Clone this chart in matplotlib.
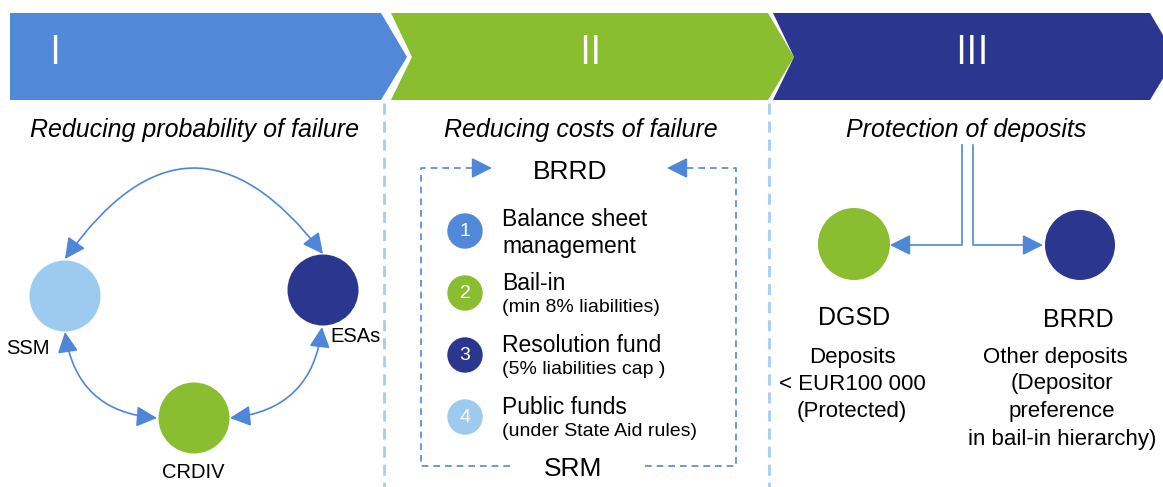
import matplotlib

matplotlib.use("Agg")
import matplotlib.pyplot as plt
from matplotlib.patches import Circle, FancyArrowPatch, Polygon

plt.rcParams["font.family"] = ["Liberation Sans", "DejaVu Sans"]

# ---------------- content ----------------
BLUE = "#5288d8"
GREEN = "#8bbd30"
NAVY = "#2b378e"
LIGHT = "#9dcbf0"
ARROW = "#4f87d8"
SEP = "#a5cdef"

numerals = ["I", "II", "III"]
banner_colors = [BLUE, GREEN, NAVY]
headers = ["Reducing probability of failure", "Reducing costs of failure",
           "Protection of deposits"]

left_nodes = ["SSM", "ESAs", "CRDIV"]
left_colors = [LIGHT, NAVY, GREEN]

tools_num = ["1", "2", "3", "4"]
tools_main = [["Balance sheet", "management"], ["Bail-in"], ["Resolution fund"],
              ["Public funds"]]
tools_sub = ["", "(min 8% liabilities)", "(5% liabilities cap )", "(under State Aid rules)"]
tools_colors = [BLUE, GREEN, NAVY, LIGHT]

dep_titles = ["DGSD", "BRRD"]
dep_colors = [GREEN, NAVY]
dgsd_lines = ["Deposits", "< EUR100 000", "(Protected)"]
brrd_lines = ["Other deposits", "(Depositor", "preference", "in bail-in hierarchy)"]

# ---------------- canvas (pixel coordinates) ----------------
fig = plt.figure(figsize=(11.63, 4.87), dpi=100)
ax = fig.add_axes([0, 0, 1, 1])
ax.set_xlim(0, 1163)
ax.set_ylim(487, 0)
ax.axis("off")

# chevron banners
top, mid, bot = 13, 57, 100
tip = 26
starts = [10, 391, 773]
ends = [381, 768, 1150]
for i, (x0, x1) in enumerate(zip(starts, ends)):
    pts = [(x0, top), (x1, top), (x1 + tip, mid), (x1, bot), (x0, bot)]
    if i > 0:
        pts.append((x0 + 21, mid))
    ax.add_patch(Polygon(pts, closed=True, facecolor=banner_colors[i], edgecolor="none"))

for x, s in zip([55, 590, 972], numerals):
    ax.text(x, 54, s, color="white", fontsize=29, ha="center", va="center",
            family=["Open Sans", "DejaVu Sans"])

for x, s in zip([195, 581, 966], headers):
    ax.text(x, 130, s, fontsize=18, style="italic", ha="center", va="center")

# dashed separators
for x in [384, 769]:
    ax.plot([x, x], [103, 487], color=SEP, lw=2, dashes=(4, 2.5))

# ---------------- panel I ----------------
centers = [(65, 296), (323, 290), (194, 418)]
for (cx, cy), c in zip(centers, left_colors):
    ax.add_patch(Circle((cx, cy), 35.5, facecolor=c, edgecolor="none"))

ax.text(28, 348, left_nodes[0], fontsize=14.5, ha="center", va="center")
ax.text(356, 336, left_nodes[1], fontsize=14.5, ha="center", va="center")
ax.text(193, 472, left_nodes[2], fontsize=14.5, ha="center", va="center")

arrow_kw = dict(arrowstyle="<|-|>,head_length=0.9,head_width=0.45",
                color=ARROW, lw=1.2, mutation_scale=14, shrinkA=0, shrinkB=0)
ax.add_patch(FancyArrowPatch((65, 259), (323, 254),
                             connectionstyle="arc3,rad=-0.68", **arrow_kw))
ax.add_patch(FancyArrowPatch((65, 332), (157, 418),
                             connectionstyle="arc3,rad=0.4", **arrow_kw))
ax.add_patch(FancyArrowPatch((230, 418), (322, 327),
                             connectionstyle="arc3,rad=0.4", **arrow_kw))

# ---------------- panel II ----------------
ax.text(570, 172, "BRRD", fontsize=19, ha="center", va="center")
ax.text(573, 469, "SRM", fontsize=19, ha="center", va="center")

box_kw = dict(color=ARROW, lw=1.2, dashes=(4, 3))
bl, br, bt, bb = 421, 736, 168, 466
ax.plot([484, bl, bl, 515], [bt, bt, bb, bb], **box_kw)
ax.plot([675, br, br, 645], [bt, bt, bb, bb], **box_kw)
head_kw = dict(arrowstyle="-|>,head_length=0.9,head_width=0.45", color=ARROW,
               lw=1.2, mutation_scale=14, shrinkA=0, shrinkB=0)
ax.add_patch(FancyArrowPatch((480, bt), (492, bt), **head_kw))
ax.add_patch(FancyArrowPatch((679, bt), (667, bt), **head_kw))

ys = [231, 293, 355, 417]
for y, n, main, sub, c in zip(ys, tools_num, tools_main, tools_sub, tools_colors):
    ax.add_patch(Circle((465, y), 17.7, facecolor=c, edgecolor="none"))
    ax.text(465, y + 1, n, color="white", fontsize=14, ha="center", va="center")
    if sub:
        ax.text(502, y - 10, main[0], fontsize=16.5, ha="left", va="center")
        ax.text(502, y + 15, sub, fontsize=14, ha="left", va="center")
    else:
        ax.text(502, y - 12, main[0], fontsize=16.5, ha="left", va="center")
        ax.text(502, y + 15, main[1], fontsize=16.5, ha="left", va="center")

# ---------------- panel III ----------------
ax.plot([962, 962, 900], [145, 245, 245], color=ARROW, lw=1.2)
ax.plot([973, 973, 1033], [145, 245, 245], color=ARROW, lw=1.2)
ax.add_patch(FancyArrowPatch((902, 245), (890, 245), **head_kw))
ax.add_patch(FancyArrowPatch((1031, 245), (1043, 245), **head_kw))

ax.add_patch(Circle((854, 244), 36, facecolor=dep_colors[0], edgecolor="none"))
ax.add_patch(Circle((1080, 245), 35, facecolor=dep_colors[1], edgecolor="none"))

ax.text(854, 318, dep_titles[0], fontsize=18, ha="center", va="center")
ax.text(1078, 320, dep_titles[1], fontsize=18, ha="center", va="center")
for y, s in zip([357, 385, 412], dgsd_lines):
    ax.text(852, y, s, fontsize=16, ha="center", va="center")
for x, y, s in zip([1055, 1062, 1062, 1062], [357, 384, 412, 439], brrd_lines):
    ax.text(x, y, s, fontsize=16, ha="center", va="center")

fig.savefig("out.png", dpi=100)
